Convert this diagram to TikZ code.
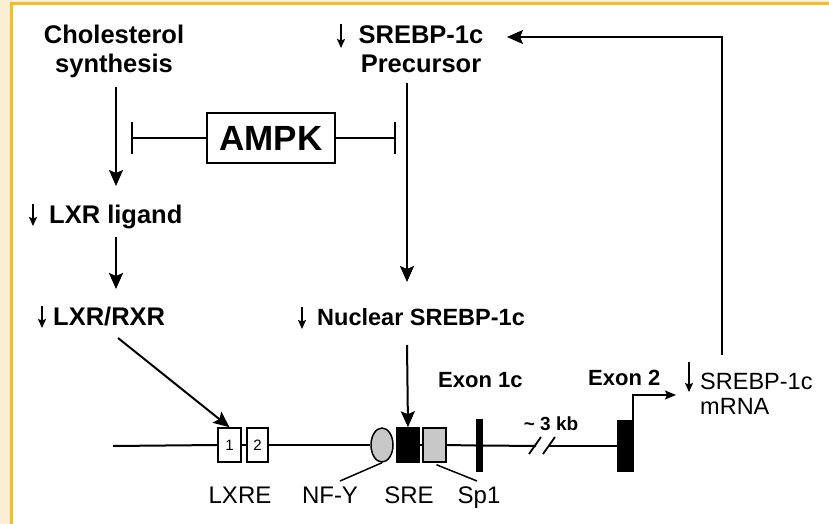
\documentclass[tikz,border=0pt]{standalone}
\usepackage{fontspec}
\setmainfont{Liberation Sans}
\usetikzlibrary{arrows.meta,shapes.geometric}
\definecolor{cream}{HTML}{FCEFD4}
\definecolor{yel}{HTML}{F5BE22}
\definecolor{lgray}{HTML}{C8C8C8}
\begin{document}
\begin{tikzpicture}[x=1pt,y=-1pt,
  big/.style={-{Stealth[length=16pt,width=14pt,inset=3pt]}, line width=2pt},
  inh/.style={-{Bar[width=32pt,line width=2pt]}, line width=2pt},
  smallarr/.style={-{Stealth[length=9pt,width=8pt,inset=1.5pt]}, line width=1.3pt},
  lab/.style={font=\bfseries\fontsize{25.5}{29}\selectfont, inner sep=0pt, align=center},
  reg/.style={font=\fontsize{24}{26}\selectfont, inner sep=0pt},
  exl/.style={font=\bfseries\fontsize{22}{24}\selectfont, inner sep=0pt},
  elem/.style={draw, line width=1.5pt, inner sep=0pt, font=\fontsize{15}{15}\selectfont}
]
\useasboundingbox (0,0) rectangle (829,524);
\fill[cream] (0,0) rectangle (829,524);
\fill[white] (11,3.5) rectangle (829,524);
\draw[yel, line width=3pt] (11,524) -- (11,3.5) -- (829,3.5);

% text nodes
\node[lab, anchor=north] (chol) at (114,25) {Cholesterol\\synthesis};
\node[lab, anchor=north] (prec) at (421,25) {SREBP-1c\\Precursor};
\node[lab, anchor=base west] (lig) at (49,223) {LXR ligand};
\node[lab, anchor=base west] (lxr) at (53,325) {LXR/RXR};
\node[lab, anchor=base west, font=\bfseries\fontsize{23.5}{27}\selectfont] (nuc) at (317,325) {Nuclear SREBP-1c};
\node[draw, line width=2pt, minimum width=128pt, minimum height=50pt, inner sep=0pt,
      font=\bfseries\fontsize{35}{35}\selectfont] (ampk) at (271,138) {AMPK};
\node[font=\fontsize{23.5}{25}\selectfont, inner sep=0pt, align=left, anchor=north west] (mrna) at (700,373) {SREBP-1c\\mRNA};
\node[exl, anchor=base west] (ex1l) at (438,387) {Exon 1c};
\node[exl, anchor=base west] (ex2l) at (588,385) {Exon 2};
\node[font=\bfseries\fontsize{19}{19}\selectfont, inner sep=0pt, anchor=base] (kb) at (551,430) {\textasciitilde{} 3 kb};

% small down arrows
\coordinate (d1a) at (341,24); \coordinate (d1b) at (341,48);
\coordinate (d2a) at (33,204); \coordinate (d2b) at (33,226);
\coordinate (d3a) at (42,306); \coordinate (d3b) at (42,328);
\coordinate (d4a) at (302,307); \coordinate (d4b) at (302,329);
\coordinate (d5a) at (689,362); \coordinate (d5b) at (689,392);
\foreach \i in {1,...,5} {\draw[smallarr] (d\i a) -- (d\i b);}

% gene
\coordinate (dnaL) at (113,446);
\coordinate (brk1) at (536,446);
\coordinate (brk2) at (549,446);
\node[elem, fill=white, minimum width=23pt, minimum height=34pt] (lx1) at (229.5,445) {1};
\node[elem, fill=white, minimum width=21pt, minimum height=34pt] (lx2) at (257.5,445) {2};
\node[elem, fill=lgray, ellipse, minimum width=22pt, minimum height=34pt] (nfy) at (382,445) {};
\node[elem, fill=black, minimum width=22pt, minimum height=34pt] (sre) at (408,445) {};
\node[elem, fill=lgray, minimum width=23pt, minimum height=34pt] (sp1) at (434.5,445) {};
\node[fill=black, inner sep=0pt, minimum width=7pt, minimum height=53pt] (ex1) at (479.5,445.5) {};
\node[fill=black, inner sep=0pt, minimum width=17pt, minimum height=52pt] (ex2) at (625.5,446) {};
\draw[line width=2pt] (dnaL) -- (lx1.west);
\draw[line width=2pt] (lx1.east) -- (lx2.west);
\draw[line width=2pt] (lx2.east) -- (nfy.west);
\draw[line width=2pt] (sre.east) -- (sp1.west);
\draw[line width=2pt] (sp1.east) -- (ex1.west);
\draw[line width=2pt] (ex1.east) -- (brk1);
\draw[line width=2pt] (brk2) -- (ex2.west);
\draw[line width=1.8pt] (529,454) -- (541,437);
\draw[line width=1.8pt] (543,454) -- (555,437);

% transcription start
\coordinate (tss) at (676,395);
\draw[line width=1.5pt, -{Stealth[length=11pt,width=9pt,inset=2pt]}] ([xshift=-1pt]ex2.north east) |- (tss);

% labels below
\node[reg, anchor=base] (lxrel) at (240,503) {LXRE};
\node[reg, anchor=base] (nfyl) at (330,503) {NF-Y};
\node[reg, anchor=base] (srel) at (409,503) {SRE};
\node[reg, anchor=base] (sp1l) at (479,503) {Sp1};
\draw[line width=1.5pt] (340,481) -- (nfy.south);
\draw[line width=1.5pt] (sp1.south) ++(2,2) -- (477,481);

% arrows
\draw[big] ([shift={(2,9)}]chol.south) -- ([shift={(67,-37)}]lig.base west);
\draw[big] ([shift={(67,14)}]lig.base west) -- ([shift={(63,-36)}]lxr.base west);
\draw[big] ([shift={(65,13)}]lxr.base west) -- (lx1.north);
\draw[big] ([shift={(-14,11)}]prec.south) -- ([shift={(90,-43)}]nuc.base west);
\draw[big] ([shift={(90,20)}]nuc.base west) -- (sre.north);
\draw[inh] (ampk.west) -- (131,138);
\draw[inh] (ampk.east) -- (396,138);
\coordinate (fbs) at (722,355);
\coordinate (fbe) at (507,37);
\draw[big] (fbs) |- (fbe);
\end{tikzpicture}
\end{document}
